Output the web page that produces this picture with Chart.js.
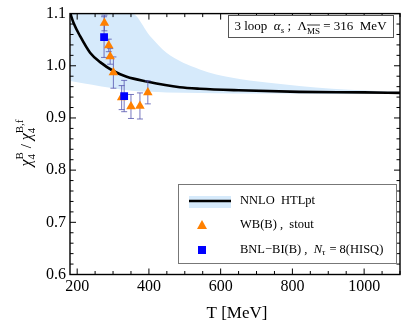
<!DOCTYPE html>
<html>
<head>
<meta charset="UTF-8">
<title>chi4 ratio</title>
<script src="https://cdn.jsdelivr.net/npm/chart.js"></script>
<style>
  body { margin: 0; background: #fff; }
</style>
</head>
<body>
<canvas id="grafica" width="409" height="329"></canvas>
<script>
  // tick labels
  const xTicks = [200, 400, 600, 800, 1000];
  const yTicks = [0.6, 0.7, 0.8, 0.9, 1.0, 1.1];

  // WB(B), stout
  const wbT   = [276, 288, 292, 301, 324, 350, 375, 397];
  const wbVal = [1.082, 1.039, 1.018, 0.987, 0.939, 0.922, 0.923, 0.949];
  const wbErr = [0.015, 0.012, 0.015, 0.030, 0.023, 0.023, 0.025, 0.022];

  // BNL-BI(B), Nt=8 (HISQ)
  const bnlT   = [275, 331];
  const bnlVal = [1.055, 0.942];
  const bnlErr = [0.039, 0.030];

  // NNLO HTLpt central line
  const htlT   = [181, 190, 208, 236, 264, 301, 338, 394, 486, 542, 650, 819, 1000, 1100];
  const htlVal = [1.100, 1.082, 1.057, 1.025, 1.007, 0.990, 0.979, 0.970, 0.959, 0.956, 0.953, 0.950, 0.949, 0.948];

  // NNLO HTLpt band
  const bandT  = [181, 220, 264, 300, 352, 403, 449, 542, 633, 728, 911, 1100];
  const bandHi = [1.100, 1.100, 1.100, 1.100, 1.100, 1.057, 1.025, 0.993, 0.977, 0.968, 0.956, 0.950];
  const bandLo = [0.971, 0.966, 0.961, 0.957, 0.952, 0.950, 0.949, 0.948, 0.947, 0.947, 0.946, 0.946];

  const serif = 'Liberation Serif';
  const bandColor = 'rgb(214,234,251)';
  const orange = 'rgb(255,128,0)';
  const blue = 'rgb(0,0,255)';
  const errColor = 'rgba(85,85,175,0.8)';

  const pts = (xs, ys) => xs.map((x, i) => ({ x: x, y: ys[i] }));

  // draws text pieces in a row; returns width
  function rich(ctx, parts, x, y, dry) {
    let cx = x;
    for (const p of parts) {
      if (p.stack) {
        ctx.font = p.font;
        const w1 = ctx.measureText(p.sub).width;
        const w2 = ctx.measureText(p.sup).width;
        if (!dry) {
          ctx.fillText(p.sub, cx, y + p.dsub);
          ctx.fillText(p.sup, cx, y + p.dsup);
        }
        cx += Math.max(w1, w2);
        continue;
      }
      ctx.font = p.font;
      const w = ctx.measureText(p.t).width;
      if (!dry) {
        ctx.fillText(p.t, cx, y + (p.dy || 0));
        if (p.bar) {
          ctx.beginPath();
          ctx.lineWidth = 0.8;
          ctx.moveTo(cx, y + p.bar);
          ctx.lineTo(cx + w, y + p.bar);
          ctx.stroke();
        }
      }
      cx += w + (p.gap || 0);
    }
    return cx - x;
  }

  function drawErrors(chart) {
    const ctx = chart.ctx;
    const xs = chart.scales.x, ys = chart.scales.y;
    ctx.save();
    ctx.strokeStyle = errColor;
    ctx.lineWidth = 1;
    const one = (t, v, e) => {
      const px = xs.getPixelForValue(t);
      const top = ys.getPixelForValue(v + e);
      const bot = ys.getPixelForValue(v - e);
      ctx.beginPath();
      ctx.moveTo(px, top); ctx.lineTo(px, bot);
      ctx.moveTo(px - 3, top); ctx.lineTo(px + 3, top);
      ctx.moveTo(px - 3, bot); ctx.lineTo(px + 3, bot);
      ctx.stroke();
    };
    wbT.forEach((t, i) => one(t, wbVal[i], wbErr[i]));
    bnlT.forEach((t, i) => one(t, bnlVal[i], bnlErr[i]));
    ctx.restore();
  }

  const deco = {
    id: 'deco',
    afterDatasetDraw(chart, args) {
      if (args.index === 2) drawErrors(chart);
    },
    afterDraw(chart) {
      const ctx = chart.ctx;
      const a = chart.chartArea;
      const xs = chart.scales.x, ys = chart.scales.y;
      ctx.save();
      ctx.strokeStyle = '#000';
      ctx.fillStyle = '#000';

      // ticks, inside on all four sides
      ctx.lineWidth = 1;
      ctx.beginPath();
      for (let t = 200; t <= 1100; t += 50) {
        const px = xs.getPixelForValue(t);
        const len = (t % 200 === 0) ? 6 : 3.5;
        ctx.moveTo(px, a.bottom); ctx.lineTo(px, a.bottom - len);
        ctx.moveTo(px, a.top); ctx.lineTo(px, a.top + len);
      }
      for (let k = 0; k <= 25; k++) {
        const v = 0.6 + k * 0.02;
        const py = ys.getPixelForValue(v);
        const len = (k % 5 === 0) ? 6 : 3.5;
        ctx.moveTo(a.left, py); ctx.lineTo(a.left + len, py);
        ctx.moveTo(a.right, py); ctx.lineTo(a.right - len, py);
      }
      ctx.stroke();

      // frame
      ctx.lineWidth = 1.4;
      ctx.strokeRect(a.left, a.top, a.right - a.left, a.bottom - a.top);

      // x title
      ctx.font = '17px ' + serif;
      ctx.textAlign = 'center';
      ctx.textBaseline = 'alphabetic';
      ctx.fillText('T [MeV]', (a.left + a.right) / 2 + 2, 318);

      // y title, rotated
      ctx.textAlign = 'left';
      const it = 'italic 16px ' + serif;
      const sm = '11px ' + serif;
      const yParts = [
        { t: '\u03c7', font: it },
        { stack: true, sub: '4', sup: 'B', font: sm, dsub: 4, dsup: -8 },
        { t: ' / ', font: '15px ' + serif },
        { t: '\u03c7', font: it },
        { stack: true, sub: '4', sup: 'B,f', font: sm, dsub: 4, dsup: -8 }
      ];
      ctx.save();
      ctx.translate(31, 143);
      ctx.rotate(-Math.PI / 2);
      const yw = rich(ctx, yParts, 0, 0, true);
      rich(ctx, yParts, -yw / 2, 0, false);
      ctx.restore();

      // top-right box
      const n13 = '13px ' + serif;
      const i13 = 'italic 13px ' + serif;
      const s9 = '9px ' + serif;
      const boxParts = [
        { t: '3 loop  ', font: n13 },
        { t: '\u03b1', font: i13 },
        { t: 's', font: 'italic 9px ' + serif, dy: 3 },
        { t: ' ;  \u039b', font: n13 },
        { t: 'MS', font: s9, dy: 4, bar: -5 },
        { t: ' = 316  MeV', font: n13 }
      ];
      const bw = rich(ctx, boxParts, 0, 0, true);
      const bx1 = 228, bx2 = 393;
      ctx.fillStyle = '#fff';
      ctx.fillRect(bx1, 15, bx2 - bx1, 22);
      ctx.strokeStyle = '#555';
      ctx.lineWidth = 1;
      ctx.strokeRect(bx1 + 0.5, 15.5, bx2 - bx1, 22);
      ctx.fillStyle = '#000';
      ctx.strokeStyle = '#000';
      rich(ctx, boxParts, (bx1 + bx2) / 2 - bw / 2, 30, false);

      // legend
      const lx1 = 178, lx2 = 396, ly1 = 184, ly2 = 263;
      ctx.fillStyle = '#fff';
      ctx.fillRect(lx1, ly1, lx2 - lx1, ly2 - ly1);
      ctx.strokeStyle = '#777';
      ctx.lineWidth = 1;
      ctx.strokeRect(lx1 + 0.5, ly1 + 0.5, lx2 - lx1, ly2 - ly1);

      ctx.fillStyle = bandColor;
      ctx.fillRect(189, 196, 42, 12);
      ctx.strokeStyle = '#000';
      ctx.lineWidth = 2.6;
      ctx.beginPath();
      ctx.moveTo(189, 201); ctx.lineTo(231, 201);
      ctx.stroke();

      ctx.fillStyle = orange;
      ctx.beginPath();
      ctx.moveTo(202, 220); ctx.lineTo(207, 229); ctx.lineTo(197, 229);
      ctx.closePath();
      ctx.fill();

      ctx.fillStyle = blue;
      ctx.fillRect(198, 246, 8, 8);

      ctx.fillStyle = '#000';
      ctx.textBaseline = 'middle';
      const n12 = '12.5px ' + serif;
      rich(ctx, [{ t: 'NNLO  HTLpt', font: n12 }], 240, 201, false);
      rich(ctx, [{ t: 'WB(B) ,  stout', font: n12 }], 240, 225, false);
      rich(ctx, [
        { t: 'BNL\u2212BI(B) ,  ', font: n12 },
        { t: 'N', font: 'italic 12.5px ' + serif },
        { t: '\u03c4', font: 'italic 9px ' + serif, dy: 3, gap: 1 },
        { t: ' = 8(HISQ)', font: n12 }
      ], 240, 250, false);

      ctx.restore();
    }
  };

  const ctx = document.getElementById('grafica').getContext('2d');

  const grafica = new Chart(ctx, {
    type: 'scatter',
    data: {
      datasets: [
        {
          label: 'WB(B), stout',
          data: pts(wbT, wbVal),
          pointStyle: 'triangle',
          pointRadius: 5.5,
          backgroundColor: orange,
          borderWidth: 0,
          order: 1
        },
        {
          label: 'BNL-BI(B)',
          data: pts(bnlT, bnlVal),
          pointStyle: 'rect',
          pointRadius: 5.5,
          backgroundColor: blue,
          borderWidth: 0,
          order: 0
        },
        {
          label: 'NNLO HTLpt',
          data: pts(htlT, htlVal),
          showLine: true,
          pointRadius: 0,
          borderColor: '#000',
          borderWidth: 2.6,
          cubicInterpolationMode: 'monotone',
          order: 3
        },
        {
          label: 'band hi',
          data: pts(bandT, bandHi),
          showLine: true,
          pointRadius: 0,
          borderWidth: 0,
          borderColor: bandColor,
          backgroundColor: bandColor,
          cubicInterpolationMode: 'monotone',
          fill: '+1',
          order: 5
        },
        {
          label: 'band lo',
          data: pts(bandT, bandLo),
          showLine: true,
          pointRadius: 0,
          borderWidth: 0,
          borderColor: bandColor,
          cubicInterpolationMode: 'monotone',
          order: 6
        }
      ]
    },
    options: {
      responsive: false,
      animation: false,
      layout: { padding: { top: 10, right: 9, left: 0, bottom: 0 } },
      plugins: {
        legend: { display: false },
        tooltip: { enabled: false }
      },
      scales: {
        x: {
          type: 'linear',
          min: 180,
          max: 1100,
          grid: { display: false, drawTicks: false },
          border: { display: false },
          ticks: {
            color: '#000',
            font: { family: serif, size: 16 },
            padding: 3,
            maxRotation: 0,
            callback: v => String(v)
          },
          afterBuildTicks: s => { s.ticks = xTicks.map(v => ({ value: v })); },
          afterFit: s => { s.height = 54.5; }
        },
        y: {
          min: 0.6,
          max: 1.1,
          grid: { display: false, drawTicks: false },
          border: { display: false },
          ticks: {
            color: '#000',
            font: { family: serif, size: 16 },
            padding: 4,
            callback: v => Number(v).toFixed(1)
          },
          afterBuildTicks: s => { s.ticks = yTicks.map(v => ({ value: v })); },
          afterFit: s => { s.width = 70; }
        }
      }
    },
    plugins: [deco]
  });
</script>
</body>
</html>
